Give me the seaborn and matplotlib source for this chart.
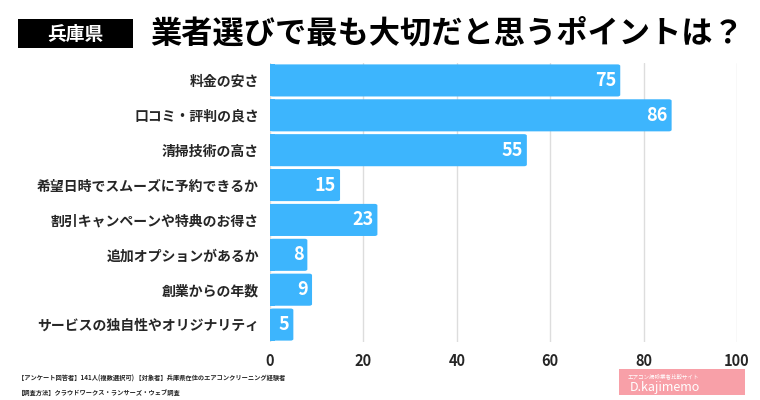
import numpy as np
import matplotlib
matplotlib.use("Agg")
import matplotlib.pyplot as plt
import seaborn as sns
import pandas as pd
from matplotlib.patches import FancyBboxPatch, Rectangle

categories = [
    "料金の安さ",
    "口コミ・評判の良さ",
    "清掃技術の高さ",
    "希望日時でスムーズに予約できるか",
    "割引キャンペーンや特典のお得さ",
    "追加オプションがあるか",
    "創業からの年数",
    "サービスの独自性やオリジナリティ",
]
counts = [75, 86, 55, 15, 23, 8, 9, 5]
xticks = [0, 20, 40, 60, 80, 100]

title_tag = "兵庫県"
title = "業者選びで最も大切だと思うポイントは？"
note1 = "【アンケート回答者】141人(複数選択可) 【対象者】兵庫県在住のエアコンクリーニング経験者"
note2 = "【調査方法】クラウドワークス・ランサーズ・ウェブ調査"

BAR = "#3db5fd"

sns.set_theme(style="white")
plt.rcParams["font.family"] = ["Noto Sans CJK JP", "DejaVu Sans"]

df = pd.DataFrame({"item": categories, "count": counts})

fig = plt.figure(figsize=(7.6, 4.0), dpi=100)
ax = fig.add_axes([270 / 760, 1 - 342 / 400, (737 - 270) / 760, (342 - 63) / 400])

sns.barplot(data=df, x="count", y="item", color=BAR, saturation=1,
            width=0.92, ax=ax, zorder=3)

# rounded right ends
for p in list(ax.patches):
    x0, y0 = p.get_x(), p.get_y()
    w, h = p.get_width(), p.get_height()
    p.set_visible(False)
    fb = FancyBboxPatch((x0, y0), w, h,
                        boxstyle="round,pad=0,rounding_size=0.6",
                        mutation_aspect=0.9 / 12,
                        fc=BAR, ec="none", zorder=3)
    ax.add_patch(fb)
    ax.add_patch(Rectangle((x0, y0), min(w, 1.0), h, fc=BAR, ec="none", zorder=3))

for i, v in enumerate(counts):
    ax.text(v - 0.8, i, str(v), ha="right", va="center", color="white",
            fontsize=13, fontweight="bold", zorder=4)

ax.set_xlim(0, 100)
ax.set_ylim(7.5, -0.5)
ax.set_xticks(xticks)
ax.set_xticklabels([str(t) for t in xticks], fontsize=10.5, fontweight="bold")
ax.tick_params(axis="x", length=0, pad=8)
ax.tick_params(axis="y", length=0, pad=8)
for lab in ax.get_yticklabels():
    lab.set_fontsize(10)
    lab.set_fontweight("bold")
ax.set_xlabel("")
ax.set_ylabel("")
ax.grid(axis="x", color="#dddddd", lw=1, zorder=0)
for s in ax.spines.values():
    s.set_visible(False)

# title
fig.patches.append(Rectangle((18 / 760, 1 - 48 / 400), 115 / 760, 29 / 400,
                             transform=fig.transFigure, fc="black", ec="none"))
fig.text(75 / 760, 1 - 34 / 400, title_tag, color="white", fontsize=13.5,
         fontweight="bold", ha="center", va="center")
fig.text(150 / 760, 1 - 34 / 400, title, color="black", fontsize=22.5,
         fontweight="bold", ha="left", va="center")

# notes
fig.text(18 / 760, 1 - 378 / 400, note1, fontsize=4.5, fontweight="bold", va="center")
fig.text(18 / 760, 1 - 392 / 400, note2, fontsize=4.5, fontweight="bold", va="center")

# logo
fig.patches.append(Rectangle((619 / 760, 1 - 395 / 400), 126 / 760, 26 / 400,
                             transform=fig.transFigure, fc="#f8a0a8", ec="none"))
fig.text(628 / 760, 1 - 376 / 400, "エアコン掃除業者比較サイト", color="white",
         fontsize=4, ha="left", va="center")
fig.text(630 / 760, 1 - 387 / 400, "D.kajimemo", color="white", fontsize=9,
         style="italic", ha="left", va="center")

fig.savefig("out.png", dpi=100)
plt.close(fig)
